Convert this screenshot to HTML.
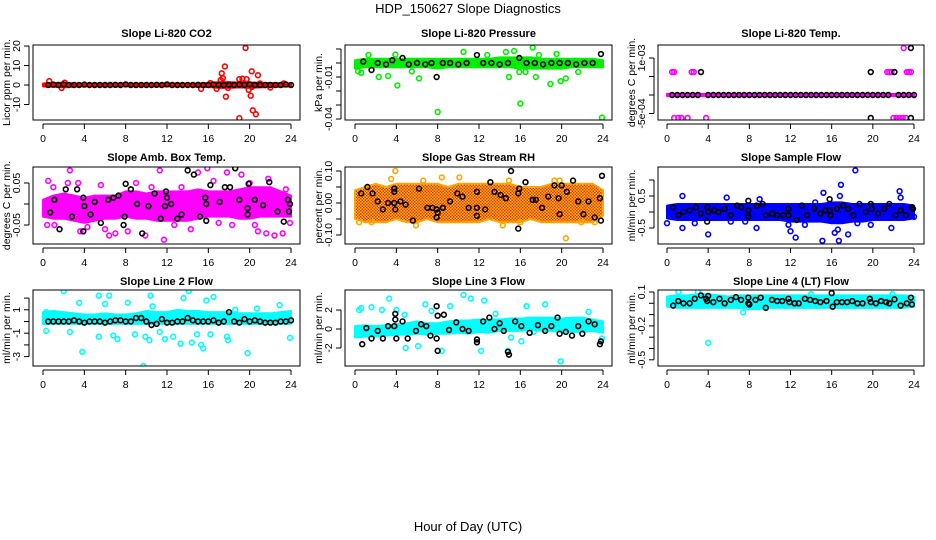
<!DOCTYPE html>
<html><head><meta charset="utf-8"><style>
html,body{margin:0;padding:0;background:#fff}
svg{display:block}
text{font-family:"Liberation Sans",sans-serif;fill:#000}
</style></head><body>
<svg id="chart" width="936" height="540" viewBox="0 0 936 540" xmlns="http://www.w3.org/2000/svg">
<defs>
<pattern id="rhpat" width="3" height="3" patternUnits="userSpaceOnUse"><rect width="3" height="3" fill="#ffd000"/><rect width="1.5" height="1.5" fill="#ff2000"/><rect x="1.5" y="1.5" width="1.5" height="1.5" fill="#ff2000"/></pattern>
</defs>
<text x="468" y="13" font-size="13" text-anchor="middle">HDP_150627  Slope Diagnostics</text>
<text x="468" y="531" font-size="13" text-anchor="middle">Hour of Day (UTC)</text>
<g id="panels"></g>
</svg>
<script>
// Shared x-axis categories
const xTickLabels = [0,4,8,12,16,20,24];
const bandHours = [0,1,2,3,4,5,6,7,8,9,10,11,12,13,14,15,16,17,18,19,20,21,22,23,24];

// ---- Panel 1: CO2 ----
const co2BandLo = [-0.8,-0.9,-1.2,-0.8,-0.7,-0.7,-0.7,-0.7,-0.7,-0.7,-0.7,-0.7,-0.7,-0.7,-0.7,-0.9,-1.0,-1.5,-1.5,-1.2,-1.5,-1.2,-1.0,-0.9,-0.8];
const co2BandHi = [0.8,1.0,1.2,0.8,0.7,0.7,0.7,0.7,0.7,0.7,0.7,0.7,0.7,0.7,0.7,0.8,1.0,1.5,1.5,1.2,1.3,1.1,1.0,0.9,0.8];
const co2Outliers = [[0.6,2],[1.8,-1.5],[2.1,1.2],[15.3,-2],[16.2,1],[16.8,-2],[17.2,2.5],[17.3,6],[17.4,3.5],[17.6,9.5],[17.7,-6],[17.9,-1.5],[19,-17],[19,3],[19.3,3.2],[19.6,19],[19.7,3],[19.9,-2.5],[20.1,-5.5],[20.2,7],[20.3,-13],[20.6,-15],[20.8,5],[20.2,-1],[21,0.8],[22,-1.3],[23.3,0.8]];
const co2Black = [[0.5,0],[1,0.2],[1.5,0],[2,0.3],[2.5,0],[3,0],[3.5,0],[4,0.2],[4.5,0],[5,0],[5.5,0],[6,0],[6.5,0],[7,0.1],[7.5,0],[8,0.3],[8.5,0],[9,0],[9.5,0],[10,0],[10.5,0],[11,0.1],[11.5,0],[12,0.3],[12.5,0],[13,0],[13.5,0],[14,0],[14.5,0],[15,0.1],[15.5,0],[16,0],[16.5,0.2],[17,0],[17.5,0],[18,0.1],[18.5,0],[19,0.2],[19.5,0],[20,0.3],[20.5,0],[21,0],[21.5,0],[22,0],[22.5,0],[23,0],[23.5,0.3],[24,0]];

// ---- Panel 2: Pressure ----
const presBandLo = [-0.004,-0.003,-0.003,-0.003,-0.003,-0.003,-0.003,-0.003,-0.004,-0.003,-0.003,-0.003,-0.003,-0.003,-0.003,-0.003,-0.004,-0.004,-0.004,-0.004,-0.004,-0.003,-0.003,-0.003,-0.003];
const presBandHi = [0.002,0.003,0.003,0.003,0.003,0.003,0.003,0.003,0.003,0.003,0.003,0.003,0.003,0.003,0.004,0.004,0.004,0.004,0.003,0.003,0.003,0.003,0.003,0.003,0.002];
const presOutliers = [[0.3,-0.006],[0.6,-0.007],[1.3,0.0057],[2.3,-0.01],[3.2,-0.0093],[3.9,0.006],[4.1,-0.016],[5.5,-0.006],[6.2,-0.011],[8,-0.035],[10.5,0.008],[12.8,0.0057],[14.6,0.0079],[15.4,0.0086],[14.9,-0.01],[15.9,-0.0064],[16,-0.029],[16.5,-0.0064],[17.2,0.011],[17.5,-0.01],[17.8,0.0057],[18.9,-0.015],[19.5,0.0064],[19.9,-0.013],[20.4,-0.011],[21.6,-0.0064],[23.9,-0.039]];
const presBlack = [[0.8,0.001],[1.6,-0.005],[2.2,0],[3.0,-0.001],[3.6,0.002],[4.6,0.0036],[5.2,-0.001],[6.0,0],[6.8,-0.001],[7.4,0],[7.9,-0.01],[8.5,0],[9.2,0],[10,-0.001],[10.8,0],[11.8,0.0057],[12.4,0],[13.2,0],[14,-0.001],[14.8,0],[15.9,0.0036],[16.6,0],[17.4,0],[18.2,-0.001],[19,0],[19.8,0],[20.6,0],[21.4,-0.001],[22.2,0],[23,0],[23.8,0.0064]];

// ---- Panel 3: Li-820 Temp ----
const tempBandLo = [-0.00003,-0.00003,-0.00003,-0.00003,-0.00003,-0.00003,-0.00003,-0.00003,-0.00003,-0.00003,-0.00003,-0.00003,-0.00003,-0.00003,-0.00003,-0.00003,-0.00003,-0.00003,-0.00003,-0.00003,-0.00003,-0.00003,-0.00003,-0.00003,-0.00003];
const tempBandHi = [0.00003,0.00003,0.00003,0.00003,0.00003,0.00003,0.00003,0.00003,0.00003,0.00003,0.00003,0.00003,0.00003,0.00003,0.00003,0.00003,0.00003,0.00003,0.00003,0.00003,0.00003,0.00003,0.00003,0.00003,0.00003];
const tempOutliers = [[0.5,0.00062],[0.7,0.00062],[2.4,0.00062],[2.6,0.00062],[21.4,0.00062],[21.6,0.00062],[21.8,0.00062],[23.3,0.00062],[23.5,0.00062],[23.7,0.00062],[0.7,-0.00062],[1.1,-0.00062],[1.4,-0.00062],[2,-0.00062],[3.8,-0.00062],[22,-0.00062],[22.3,-0.00062],[22.6,-0.00062],[22.9,-0.00062],[23.2,-0.00062],[23.0,0.00127]];
const tempBlack = [[0.5,0],[1,0],[1.5,0],[2,0],[2.5,0],[3,0],[3.3,0.00062],[4,0],[4.5,0],[5,0],[5.5,0],[6,0],[6.5,0],[7,0],[7.5,0],[8,0],[8.5,0],[9,0],[9.5,0],[10,0],[10.5,0],[11,0],[11.5,0],[12,0],[12.5,0],[13,0],[13.5,0],[14,0],[14.5,0],[15,0],[15.5,0],[16,0],[16.5,0],[17,0],[17.5,0],[18,0],[18.5,0],[19,0],[19.5,0],[19.8,0.00062],[19.8,-0.00062],[20,0],[20.5,0],[21,0],[21.5,0],[22.1,0.00062],[22.5,0],[23,0],[23.5,0],[23.7,-0.00062],[23.7,0.00127],[24,0]];

// ---- Panel 4: Amb. Box Temp ----
const ambBandLo = [-0.03,-0.035,-0.035,-0.04,-0.045,-0.04,-0.035,-0.035,-0.03,-0.035,-0.035,-0.04,-0.04,-0.04,-0.04,-0.035,-0.03,-0.03,-0.03,-0.035,-0.035,-0.03,-0.03,-0.03,-0.03];
const ambBandHi = [0.01,0.02,0.025,0.02,0.015,0.02,0.02,0.02,0.03,0.03,0.025,0.03,0.03,0.03,0.03,0.035,0.03,0.03,0.03,0.035,0.04,0.04,0.04,0.03,0.02];
const ambOutliers = [[0.5,0.055],[0.4,-0.05],[1.0,0.04],[1.1,-0.05],[2.6,0.08],[2.4,0.05],[3.4,0.05],[3.6,-0.065],[4.3,-0.055],[5.6,0.045],[6.0,-0.06],[6.4,-0.075],[7.0,-0.07],[7.4,0.02],[8.2,-0.065],[9.0,0.05],[9.9,-0.075],[10.5,0.04],[11.3,0.08],[11.7,-0.085],[12.7,-0.05],[13.4,0.04],[14.3,-0.06],[15.0,0.075],[15.9,0.085],[16.5,0.055],[17.0,-0.045],[17.8,0.075],[18.3,-0.05],[19.2,0.07],[20.0,0.05],[20.5,-0.05],[20.8,-0.065],[21.6,-0.07],[21.8,0.06],[22.4,-0.075],[23.2,-0.07],[23.5,0.035],[23.9,-0.045]];
const ambBlack = [[0.7,-0.02],[1.1,0.01],[1.6,-0.06],[2.2,0.035],[2.8,-0.03],[3.3,0.035],[3.9,-0.065],[3.9,0.015],[4.0,-0.005],[4.6,-0.025],[5.0,0.005],[5.6,-0.045],[6.3,0.01],[6.8,0.015],[7.3,0.02],[7.8,-0.05],[7.9,-0.03],[8.0,0.048],[8.5,0.035],[9.1,0.0],[9.6,-0.07],[10.2,-0.005],[10.8,0.025],[11.4,-0.035],[11.8,-0.005],[11.9,0.03],[12.0,0.015],[12.4,0.0],[13.0,-0.035],[13.4,-0.025],[14.0,0.08],[14.6,0.07],[15.2,-0.03],[15.7,0.015],[15.8,0.0],[15.8,-0.04],[16.2,0.045],[17.1,0.005],[17.6,0.04],[18.1,0.04],[18.6,0.085],[19.0,0.01],[19.8,-0.01],[19.8,-0.025],[19.9,0.048],[20.5,0.01],[21.3,-0.003],[21.9,0.052],[22.7,-0.018],[23.3,-0.042],[23.7,0.01],[23.8,-0.018],[23.9,0.0]];

// ---- Panel 5: Gas Stream RH ----
const rhBandLo = [-0.05,-0.06,-0.06,-0.06,-0.05,-0.06,-0.06,-0.05,-0.06,-0.06,-0.06,-0.06,-0.06,-0.05,-0.06,-0.06,-0.06,-0.05,-0.06,-0.06,-0.06,-0.06,-0.06,-0.06,-0.04];
const rhBandHi = [0.04,0.05,0.06,0.05,0.06,0.06,0.06,0.06,0.06,0.05,0.06,0.06,0.06,0.06,0.06,0.06,0.05,0.05,0.05,0.06,0.06,0.06,0.06,0.06,0.04];
const rhOutliers = [[0.4,-0.06],[1.6,-0.06],[3.5,0.075],[3.9,0.1],[5.9,-0.07],[6.6,0.07],[8.4,0.08],[10.1,0.08],[14.3,-0.07],[14.9,0.07],[16,-0.06],[19.3,0.07],[19.8,0.07],[20.4,-0.11],[21.9,-0.06],[23.2,-0.06]];
const rhBlack = [[0.6,0.03],[1.2,0.05],[1.7,0.03],[2.2,0.005],[2.7,-0.02],[3.2,0.0],[3.8,0.045],[3.8,0.035],[3.8,0.0],[3.9,-0.02],[4.4,0.005],[4.9,-0.005],[5.6,-0.055],[6.2,0.045],[7.0,-0.015],[7.5,-0.015],[7.9,-0.045],[7.9,-0.02],[8.0,-0.03],[8.5,-0.015],[9.2,0.005],[9.9,0.03],[10.4,0.02],[11.0,-0.015],[11.8,0.035],[11.8,-0.015],[11.8,-0.04],[12.6,-0.02],[13.1,0.065],[13.5,0.035],[14.1,0.025],[14.6,0.015],[15.1,0.1],[15.8,-0.08],[15.8,0.03],[15.9,0.045],[16.5,0.065],[17.2,0.01],[17.5,0.01],[18.1,-0.015],[18.7,0.02],[19.3,0.055],[19.7,0.015],[19.8,-0.035],[20.0,0.055],[20.5,0.035],[21.1,0.07],[21.6,0.005],[22.1,-0.035],[22.6,0.005],[23.2,-0.045],[23.7,0.015],[23.8,-0.055],[23.9,0.085]];

// ---- Panel 6: Sample Flow ----
const sfBandLo = [-0.2,-0.25,-0.25,-0.25,-0.25,-0.25,-0.25,-0.25,-0.25,-0.25,-0.25,-0.25,-0.3,-0.3,-0.3,-0.3,-0.35,-0.35,-0.3,-0.3,-0.25,-0.25,-0.25,-0.25,-0.2];
const sfBandHi = [0.2,0.25,0.25,0.25,0.25,0.25,0.25,0.25,0.25,0.25,0.25,0.25,0.25,0.25,0.25,0.25,0.3,0.3,0.25,0.25,0.25,0.25,0.25,0.25,0.2];
const sfOutliers = [[0,-0.35],[1.5,0.5],[1.5,-0.5],[2.7,-0.35],[4.0,-0.7],[5.8,0.45],[6.2,-0.3],[7.6,-0.3],[8.7,-0.5],[9.0,0.4],[11.8,-0.4],[12.0,-0.6],[12.5,-0.8],[13.4,-0.4],[14.4,0.3],[15.1,-0.9],[15.2,0.6],[16.3,-0.65],[16.6,-0.55],[16.7,-0.9],[16.8,0.5],[16.9,0.85],[17.6,-0.7],[18.3,1.3],[18.5,-0.35],[19.8,-0.4],[21.8,-0.5],[22.6,0.65],[22.7,0.45],[24,-0.15]];
const sfBlack = [[0.6,0.15],[1.1,-0.1],[1.6,0.0],[2.2,0.05],[2.8,0.15],[3.3,-0.05],[3.9,-0.3],[3.9,0.15],[4.0,0.0],[4.6,0.05],[5.0,0.0],[5.6,0.1],[6.2,-0.1],[6.8,0.2],[7.2,0.15],[7.9,0.35],[7.9,0.05],[7.9,-0.15],[8.7,0.2],[9.3,0.25],[9.6,-0.1],[10.2,-0.05],[10.7,-0.1],[11.3,-0.1],[11.8,0.1],[11.8,-0.1],[12.6,-0.25],[13.1,0.2],[13.6,-0.1],[14.3,0.1],[14.9,-0.05],[15.4,0.05],[15.8,0.4],[15.9,-0.1],[15.8,0.05],[16.5,0.1],[17.1,0.2],[17.6,0.1],[18.1,-0.1],[18.7,0.25],[19.3,0.0],[19.8,0.25],[19.9,0.1],[20.5,-0.05],[21.1,0.1],[21.6,0.25],[22.2,-0.1],[22.7,0.05],[23.2,-0.1],[23.8,0.15],[23.9,0.1]];

// ---- Panel 7: Line 2 Flow ----
const l2BandLo = [-0.2,-0.2,-0.2,-0.2,-0.2,-0.2,-0.2,-0.2,-0.2,-0.2,-0.2,-0.2,-0.2,-0.2,-0.2,-0.2,-0.2,-0.2,-0.2,-0.2,-0.2,-0.2,-0.2,-0.2,-0.2];
const l2BandHi = [0.8,0.9,0.8,0.7,0.6,0.6,0.7,0.6,0.6,0.7,0.9,0.8,0.8,1.0,0.9,0.9,0.8,0.8,0.8,0.7,0.7,0.7,0.7,0.8,0.9];
const l2Outliers = [[0.3,0.8],[0.3,-0.8],[2.0,2.6],[2.6,-0.9],[3.5,1.6],[3.8,-2.6],[5.4,-1.3],[5.4,2.2],[6.0,1.5],[6.4,2.2],[6.8,-1.2],[7.2,-1.5],[8.2,1.6],[8.9,-1.1],[9.7,-3.8],[9.9,-1.3],[10.3,-1.6],[10.4,2.2],[10.6,1.3],[11.3,-0.9],[11.8,-1.5],[12.6,-1.3],[13.3,-1.9],[13.6,2.0],[14.1,2.6],[14.4,-1.8],[14.9,-1.1],[15.3,-2.0],[15.5,-2.3],[15.8,1.8],[16.2,-1.1],[16.5,2.1],[17.8,-1.3],[17.9,-1.6],[18.6,1.0],[19.8,-2.7],[20.7,1.1],[22.9,1.4],[23.9,-1.4]];
const l2Black = [[0.5,0],[1,0],[1.5,0],[2,0],[2.5,0],[3,0.1],[3.5,0],[4,-0.1],[4.5,0],[5,0],[5.5,0],[6,-0.1],[6.5,0],[7,0.1],[7.5,0.1],[8,0],[8.5,0],[9,0.3],[9.5,0.3],[10,0],[10.5,-0.3],[11,-0.2],[11.5,0.2],[12,-0.1],[12.5,-0.1],[13,0],[13.5,0],[14,0.3],[14.5,0.1],[15,0],[15.5,0],[16,0],[16.5,0.1],[17,-0.1],[17.5,0],[18,0.8],[18.5,0],[19,-0.1],[19.5,0.2],[20,0],[20.5,0.1],[21,0],[21.5,-0.1],[22,-0.1],[22.5,-0.1],[23,0],[23.5,0],[24,0.1]];

// ---- Panel 8: Line 3 Flow ----
const l3BandLo = [-0.9,-0.8,-0.8,-0.7,-0.6,-0.6,-0.5,-0.6,-0.5,-0.5,-0.4,-0.5,-0.3,-0.4,-0.2,-0.2,-0.2,-0.1,-0.2,-0.2,-0.3,-0.3,-0.3,-0.2,-0.4];
const l3BandHi = [0.3,0.4,0.3,0.4,0.5,0.6,0.8,0.6,0.6,0.8,0.9,0.9,1.0,1.0,1.0,1.1,1.1,1.2,1.2,1.2,1.1,1.2,1.2,1.0,0.8];
const l3Outliers = [[0.4,2.0],[0.6,2.2],[1.6,2.3],[2.6,2.0],[3.3,3.2],[4.0,2.0],[4.8,1.5],[4.9,-2.0],[6.1,-1.8],[6.8,2.6],[7.4,1.9],[8.4,-2.3],[9.2,2.4],[10.5,3.6],[11.2,3.2],[12.5,3.0],[12.2,-2.3],[13.6,1.6],[14.8,-2.3],[15.1,-0.9],[16.1,-1.3],[16.6,2.4],[17.3,-0.3],[18.4,2.6],[19.9,-3.4],[22.6,1.8],[23.9,-1.0]];
const l3Black = [[0.7,-1.6],[1.1,0.1],[1.6,-1.0],[2.2,-0.2],[2.7,-1.0],[3.2,0.3],[3.8,0.3],[3.9,1.0],[3.9,1.6],[4.0,-1.0],[4.6,0.8],[5.1,-1.0],[5.9,-0.2],[6.4,0.5],[6.9,0.3],[7.3,-0.7],[7.9,-1.0],[7.9,2.4],[8.0,1.4],[8.0,-2.3],[8.6,1.5],[9.1,-0.1],[9.8,0.7],[10.4,0.0],[11.0,-0.2],[11.8,-1.4],[11.8,-1.1],[12.4,0.8],[13.0,1.2],[13.5,0.0],[14.0,0.6],[14.4,-0.2],[14.8,-2.4],[14.9,-2.7],[15.5,0.8],[16.1,0.3],[16.9,-0.4],[17.7,0.4],[18.4,-0.2],[19.0,0.3],[19.6,1.2],[19.8,-0.5],[20.4,-0.3],[21.0,-0.7],[21.6,0.3],[22.0,-0.5],[22.6,0.8],[23.2,0.5],[23.7,-1.6],[23.8,-1.3]];

// ---- Panel 9: Line 4 (LT) Flow ----
const l4BandLo = [-0.03,-0.04,-0.04,-0.04,-0.04,-0.04,-0.04,-0.04,-0.05,-0.05,-0.04,-0.04,-0.04,-0.04,-0.04,-0.04,-0.04,-0.04,-0.04,-0.04,-0.04,-0.04,-0.04,-0.04,-0.03];
const l4BandHi = [0.06,0.07,0.07,0.08,0.08,0.07,0.06,0.07,0.07,0.07,0.07,0.07,0.07,0.07,0.07,0.07,0.07,0.07,0.07,0.07,0.07,0.07,0.07,0.07,0.06];
const l4Outliers = [[1.1,0.1],[3.0,0.1],[4.0,-0.35],[7.4,-0.08],[12.0,-0.6],[14.0,0.08],[20.0,-0.62],[21.9,0.08]];
const l4Black = [[0.6,-0.02],[1.1,0.02],[1.6,0.0],[2.2,0.0],[2.7,0.04],[3.3,0.07],[3.8,0.04],[3.9,0.02],[4.0,0.065],[4.5,0.01],[5.1,0.04],[5.6,0.0],[6.2,0.03],[6.7,0.055],[7.2,0.03],[7.9,0.05],[7.9,0.0],[8.0,-0.01],[8.6,0.03],[9.1,0.05],[9.6,-0.04],[10.2,0.03],[10.7,0.02],[11.2,0.02],[11.8,0.04],[11.9,0.01],[12.4,0.0],[12.8,0.0],[13.4,0.04],[13.9,0.03],[14.4,0.02],[14.9,0.01],[15.5,0.02],[16.0,0.09],[16.1,-0.03],[16.5,0.01],[17.0,0.01],[17.5,0.01],[18.0,0.02],[18.5,0.0],[19.0,0.0],[19.7,0.04],[19.8,0.01],[20.3,0.0],[20.8,0.02],[21.3,0.01],[21.6,0.0],[22.1,0.035],[22.7,-0.02],[23.3,0.0],[23.7,0.05],[23.8,-0.01]];

const NS = 'http://www.w3.org/2000/svg';
const root = document.getElementById('panels');
function mk(tag, attrs, parent){ const e=document.createElementNS(NS,tag); for(const k in attrs) e.setAttribute(k,attrs[k]); parent.appendChild(e); return e; }

const cols = [{l:33,r:300,x0:43,x24:291},{l:345,r:612,x0:355,x24:603},{l:658,r:924,x0:667,x24:914}];
const rows = [{t:45,b:120,title:33},{t:167,b:244,title:157},{t:290,b:366,title:281}];

const panels = [
 {name:'co2',title:'Slope Li-820 CO2',ylab:'Licor ppm per min.',c:0,r:0,v0:0,p0:85,v1:10,p1:65.5,ticks:[-10,0,10,20],labs:['-10','0','10','20'],color:'#ff0000',fill:'#ff0000',lo:co2BandLo,hi:co2BandHi,out:co2Outliers,blk:co2Black},
 {name:'pressure',title:'Slope Li-820 Pressure',ylab:'kPa per min.',c:1,r:0,v0:0,p0:63,v1:0.01,p1:49,ticks:[-0.04,-0.03,-0.02,-0.01,0,0.01],labs:['-0.04','','','-0.01','',''],color:'#00ee00',fill:'#00ee00',lo:presBandLo,hi:presBandHi,out:presOutliers,blk:presBlack},
 {name:'li820-temp',title:'Slope Li-820 Temp.',ylab:'degrees C per min.',c:2,r:0,v0:0,p0:95,v1:0.0005,p1:76.5,ticks:[-0.0005,0,0.0005,0.001],labs:['-5e-04','','','1e-03'],color:'#ff00ff',fill:'#ff00ff',lo:tempBandLo,hi:tempBandHi,out:tempOutliers,blk:tempBlack},
 {name:'amb-box-temp',title:'Slope Amb. Box Temp.',ylab:'degrees C per min.',c:0,r:1,v0:0,p0:204,v1:0.05,p1:183,ticks:[-0.05,0,0.05],labs:['-0.05','','0.05'],color:'#ff00ff',fill:'#ff00ff',lo:ambBandLo,hi:ambBandHi,out:ambOutliers,blk:ambBlack},
 {name:'gas-stream-rh',title:'Slope Gas Stream RH',ylab:'percent per min.',c:1,r:1,v0:0,p0:203,v1:0.1,p1:171,ticks:[-0.1,-0.05,0,0.05,0.1],labs:['-0.10','','0.00','','0.10'],color:'#ffa500',fill:'url(#rhpat)',lo:rhBandLo,hi:rhBandHi,out:rhOutliers,blk:rhBlack},
 {name:'sample-flow',title:'Slope Sample Flow',ylab:'ml/min per min.',c:2,r:1,v0:0,p0:212,v1:0.5,p1:196,ticks:[-0.5,0,0.5,1.0],labs:['-0.5','','0.5',''],color:'#0000ff',fill:'#0000ff',lo:sfBandLo,hi:sfBandHi,out:sfOutliers,blk:sfBlack},
 {name:'line2-flow',title:'Slope Line 2 Flow',ylab:'ml/min per min.',c:0,r:2,v0:0,p0:321.5,v1:1,p1:309.8,ticks:[-3,-2,-1,0,1,2],labs:['-3','','-1','','1',''],color:'#00ffff',fill:'#00ffff',lo:l2BandLo,hi:l2BandHi,out:l2Outliers,blk:l2Black},
 {name:'line3-flow',title:'Slope Line 3 Flow',ylab:'ml/min per min.',c:1,r:2,v0:0,p0:329,v1:2,p1:310,ticks:[-2,0,2],labs:['-2','0','2'],color:'#00ffff',fill:'#00ffff',lo:l3BandLo,hi:l3BandHi,out:l3Outliers,blk:l3Black},
 {name:'line4-flow',title:'Slope Line 4 (LT) Flow',ylab:'ml/min per min.',c:2,r:2,v0:0,p0:303.3,v1:0.1,p1:292,ticks:[-0.5,-0.4,-0.3,-0.2,-0.1,0,0.1],labs:['-0.5','','','-0.2','','','0.1'],color:'#00ffff',fill:'#00ffff',lo:l4BandLo,hi:l4BandHi,out:l4Outliers,blk:l4Black}
];

panels.forEach(P=>{
  const C=cols[P.c], R=rows[P.r];
  const xs = h => C.x0 + (C.x24-C.x0)*h/24;
  const ys = v => P.p0 + (P.p1-P.p0)*(v-P.v0)/(P.v1-P.v0);
  const g = mk('g',{},root);
  
  
  const t = mk('text',{x:(C.l+C.r)/2,y:R.title+4,'font-size':'11','font-weight':'bold','text-anchor':'middle'},g);
  t.textContent=P.title;
  
  
  const cid='clip-'+P.name;
  const cp=mk('clipPath',{id:cid},g); mk('rect',{x:C.l,y:R.t,width:C.r-C.l,height:R.b-R.t},cp);
  const data=mk('g',{'clip-path':'url(#'+cid+')'},g);
  let pts=[];
  bandHours.forEach((h,i)=>pts.push(xs(h)+','+ys(P.hi[i])));
  for(let i=bandHours.length-1;i>=0;i--) pts.push(xs(bandHours[i])+','+ys(P.lo[i]));
  const band=mk('polygon',{points:pts.join(' '),fill:P.fill,stroke:P.color,'stroke-width':'2','stroke-linejoin':'round'},data);
  
  
  P.out.forEach(d=>{
    const c=mk('circle',{cx:xs(d[0]),cy:ys(d[1]),r:2.4,fill:'none',stroke:P.color,'stroke-width':'1.6'},data);
    
    
  });
  P.blk.forEach(d=>{
    const c=mk('circle',{cx:xs(d[0]),cy:ys(d[1]),r:2.4,fill:'none',stroke:'#000','stroke-width':'1.6'},data);
    
    
  });
  const box=mk('rect',{x:C.l,y:R.t,width:C.r-C.l,height:R.b-R.t,fill:'none',stroke:'#000','stroke-width':'1'},g);
  
  
  const ay=R.b+4;
  const xa=mk('g',{},g);
  
  
  mk('line',{x1:xs(0),x2:xs(24),y1:ay,y2:ay,stroke:'#000'},xa);
  xTickLabels.forEach(h=>{
    mk('line',{x1:xs(h),x2:xs(h),y1:ay,y2:ay+5,stroke:'#000'},xa);
    const tl=mk('text',{x:xs(h),y:ay+18,'font-size':'10.5','text-anchor':'middle'},xa);
    tl.textContent=h;
    
    
  });
  const ax=C.l-4;
  const ya=mk('g',{},g);
  
  
  const tv=P.ticks;
  mk('line',{x1:ax,x2:ax,y1:ys(tv[0]),y2:ys(tv[tv.length-1]),stroke:'#000'},ya);
  tv.forEach((v,i)=>{
    const y=ys(v);
    mk('line',{x1:ax,x2:ax-5,y1:y,y2:y,stroke:'#000'},ya);
    if(P.labs[i]){
      const tl=mk('text',{x:0,y:0,'font-size':'10.5','text-anchor':'middle',transform:'translate('+(ax-9)+','+y+') rotate(-90)'},ya);
      tl.textContent=P.labs[i];
      
      
    }
  });
  const yl=mk('text',{x:0,y:0,'font-size':'10.5','text-anchor':'middle',transform:'translate('+(C.l-23)+','+((R.t+R.b)/2)+') rotate(-90)'},g);
  yl.textContent=P.ylab;
  
  
});
</script>
</body></html>
